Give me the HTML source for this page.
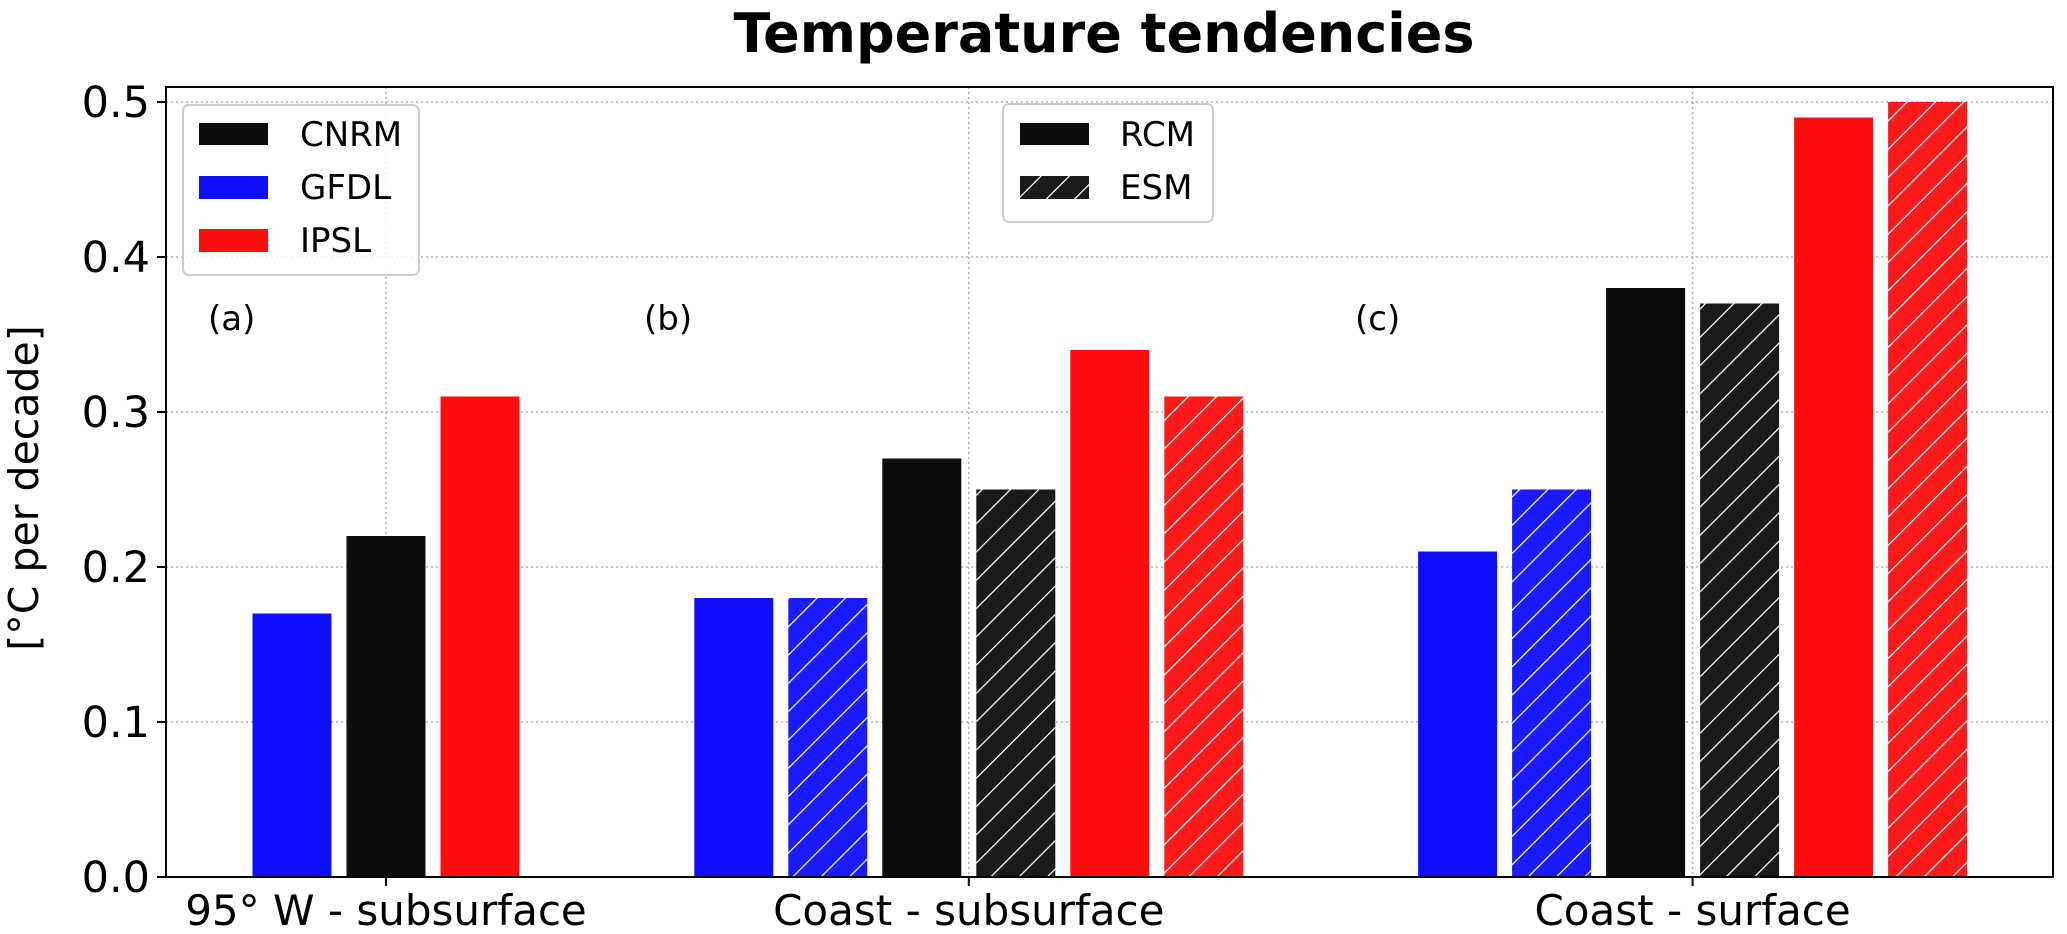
<!DOCTYPE html>
<html><head><meta charset="utf-8"><style>
html,body{margin:0;padding:0;background:#fff;}
svg{display:block;font-family:"DejaVu Sans","Liberation Sans",sans-serif;}
</style></head><body>
<svg id="chart" width="2067" height="934" viewBox="0 0 2067 934" xmlns="http://www.w3.org/2000/svg">
<defs>
<pattern id="hatch" width="20" height="20" patternUnits="userSpaceOnUse" patternTransform="rotate(45)">
<line x1="0" y1="0" x2="0" y2="20" stroke="#fff" stroke-width="2.5"/>
</pattern>
</defs>
<text x="1104" y="52" text-anchor="middle" font-size="54" font-weight="bold">Temperature tendencies</text>
<g id="grid"></g>
<g id="bars"></g>
<g id="axes"></g>
<text transform="translate(38,488) rotate(-90)" text-anchor="middle" font-size="41">[°C per decade]</text>
<text x="208" y="330" font-size="34">(a)</text>
<text x="644" y="330" font-size="34">(b)</text>
<text x="1355" y="330" font-size="34">(c)</text>
<g>
<rect x="183" y="105" width="236" height="170" rx="6" fill="#fff" fill-opacity="0.85" stroke="#ccc" stroke-width="2"/>
<rect x="199" y="123" width="69" height="22" fill="#0d0d0d"/>
<text x="300" y="146" font-size="34">CNRM</text>
<rect x="199" y="176" width="69" height="23" fill="#0d0dff"/>
<text x="300" y="199" font-size="34">GFDL</text>
<rect x="199" y="229" width="69" height="23" fill="#ff0d0d"/>
<text x="300" y="252" font-size="34">IPSL</text>
</g>
<g>
<rect x="1003" y="104" width="210" height="118" rx="6" fill="#fff" fill-opacity="0.85" stroke="#ccc" stroke-width="2"/>
<rect x="1020" y="123" width="69" height="22" fill="#0d0d0d"/>
<text x="1120" y="146" font-size="34">RCM</text>
<rect x="1020" y="176" width="69" height="23" fill="#1a1a1a"/>
<rect x="1020" y="176" width="69" height="23" fill="url(#hatch)"/>
<text x="1120" y="199" font-size="34">ESM</text>
</g>
</svg>
<script>
const categories = ["95° W - subsurface", "Coast - subsurface", "Coast - surface"];
const categoryCenters = [0, 6.2, 13.9];
const models = ["GFDL", "CNRM", "IPSL"];
const rcmValues = [[0.17, 0.22, 0.31], [0.18, 0.27, 0.34], [0.21, 0.38, 0.49]];
const esmValues = [null, [0.18, 0.25, 0.31], [0.25, 0.37, 0.50]];
const yTicks = [0.0, 0.1, 0.2, 0.3, 0.4, 0.5];
const yTickLabels = ["0.0", "0.1", "0.2", "0.3", "0.4", "0.5"];

const NS = "http://www.w3.org/2000/svg";
const L = 166, R = 2053, T = 87, B = 877;
const y = v => B - v * 1550;
const x = u => 386 + u * 94;
const barW = 79;
const solid = {GFDL: "#0d0dff", CNRM: "#0d0d0d", IPSL: "#ff0d0d"};
const light = {GFDL: "#1a1aff", CNRM: "#1a1a1a", IPSL: "#ff1a1a"};
function mk(tag, attrs, parent) {
  const e = document.createElementNS(NS, tag);
  for (const k in attrs) e.setAttribute(k, attrs[k]);
  parent.appendChild(e);
  return e;
}
const grid = document.getElementById("grid"), bars = document.getElementById("bars"), axes = document.getElementById("axes");
yTicks.forEach((t, i) => {
  const g = mk("line", {x1: L, x2: R, y1: y(t), y2: y(t), stroke: "#b0b0b0", "stroke-width": 1.5, "stroke-dasharray": "2,3"}, grid);
  
  
  mk("line", {x1: L - 9, x2: L, y1: y(t), y2: y(t), stroke: "#000", "stroke-width": 2}, axes);
  const tx = mk("text", {x: L - 16, y: y(t) + 15, "text-anchor": "end", "font-size": 43}, axes);
  tx.textContent = yTickLabels[i];
  
  
});
categories.forEach((c, ci) => {
  const cx = x(categoryCenters[ci]);
  const g = mk("line", {x1: cx, x2: cx, y1: T, y2: B, stroke: "#b0b0b0", "stroke-width": 1.5, "stroke-dasharray": "2,3"}, grid);
  
  
  mk("line", {x1: cx, x2: cx, y1: B, y2: B + 9, stroke: "#000", "stroke-width": 2}, axes);
  const tx = mk("text", {x: cx, y: B + 48, "text-anchor": "middle", "font-size": 42}, axes);
  tx.textContent = c;
  
  
  const hasEsm = esmValues[ci] !== null;
  models.forEach((m, mi) => {
    const items = [{v: rcmValues[ci][mi], h: false}];
    if (hasEsm) items.push({v: esmValues[ci][mi], h: true});
    items.forEach((it, k) => {
      const slot = hasEsm ? (mi * 2 + k) - 2.5 : mi - 1;
      const bx = cx + slot * 94 - barW / 2;
      const r = mk("rect", {x: bx, y: y(it.v), width: barW, height: B - y(it.v), fill: it.h ? light[m] : solid[m]}, bars);
      
      
      if (it.h) mk("rect", {x: bx, y: y(it.v), width: barW, height: B - y(it.v), fill: "url(#hatch)"}, bars);
    });
  });
});
const fr = mk("rect", {x: L, y: T, width: R - L, height: B - T, fill: "none", stroke: "#000", "stroke-width": 2}, axes);


</script>
</body></html>
